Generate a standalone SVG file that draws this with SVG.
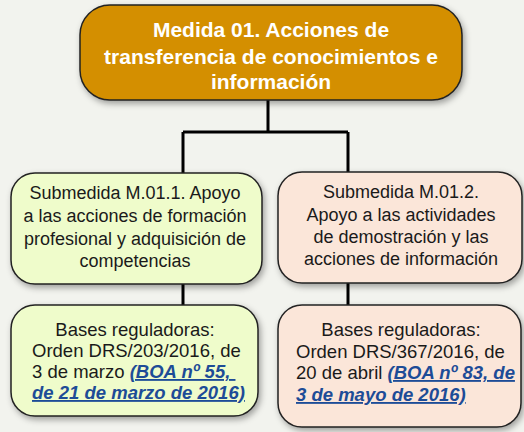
<svg xmlns="http://www.w3.org/2000/svg" width="524" height="432" viewBox="0 0 524 432">
<defs>
<filter id="sh" x="-10%" y="-10%" width="125%" height="130%">
<feDropShadow dx="2" dy="3" stdDeviation="3" flood-color="#000" flood-opacity="0.35"/>
</filter>
<style>
.box{stroke:#222;stroke-width:1.5;filter:url(#sh)}
.top{fill:#d48f00}
.grn{fill:#effccb}
.pch{fill:#fbe6d9}
.tt{font-family:"Liberation Sans",Arial,sans-serif;font-weight:bold;font-size:21px;fill:#fff;text-anchor:middle}
.t{font-family:"Liberation Sans",Arial,sans-serif;font-size:18px;fill:#1a1a1a}
.b{font-family:"Liberation Sans",Arial,sans-serif;font-size:18.5px;fill:#1a1a1a}
.lk{font-weight:bold;font-style:italic;fill:#1d4c97;text-decoration:underline}
.c{fill:none;stroke:#000;stroke-width:3}
</style>
</defs>
<rect width="524" height="432" fill="#f2f3ee"/>
<g id="connectors">
<path class="c" d="M268 100V132M183 132H348M183 132V174M348 132V173M183 284V306M348 283V306"/>
</g>
<g id="n-medida">
<rect class="box top" x="80" y="5" width="382" height="95" rx="30"/>
<text class="tt" x="271" y="37">Medida 01. Acciones de</text>
<text class="tt" x="271" y="64">transferencia de conocimientos e</text>
<text class="tt" x="271" y="89">información</text>
</g>
<g id="n-sub1">
<rect class="box grn" x="11" y="173" width="251" height="111" rx="24"/>
<text class="t" text-anchor="middle"><tspan x="135" y="199">Submedida M.01.1. Apoyo</tspan><tspan x="135" y="222">a las acciones de formación</tspan><tspan x="135" y="245">profesional y adquisición de</tspan><tspan x="135" y="267">competencias</tspan></text>
</g>
<g id="n-sub2">
<rect class="box pch" x="278" y="172" width="244" height="111" rx="24"/>
<text class="t" text-anchor="middle"><tspan x="401" y="198">Submedida M.01.2.</tspan><tspan x="401" y="221">Apoyo a las actividades</tspan><tspan x="401" y="243">de demostración y las</tspan><tspan x="401" y="265">acciones de información</tspan></text>
</g>
<g id="n-bases1">
<rect class="box grn" x="11" y="305" width="247" height="111" rx="24"/>
<text class="b"><tspan x="135" y="336" text-anchor="middle">Bases reguladoras:</tspan><tspan x="32" y="357">Orden DRS/203/2016, de</tspan><tspan x="32" y="378">3 de marzo <tspan class="lk">(BOA nº 55, </tspan></tspan><tspan x="32" y="399" class="lk">de 21 de marzo de 2016)</tspan></text>
</g>
<g id="n-bases2">
<rect class="box pch" x="278" y="305" width="243" height="122" rx="24"/>
<text class="b"><tspan x="401" y="336" text-anchor="middle">Bases reguladoras:</tspan><tspan x="296" y="358">Orden DRS/367/2016, de</tspan><tspan x="296" y="379">20 de abril <tspan class="lk">(BOA nº 83, de</tspan></tspan><tspan x="296" y="401" class="lk">3 de mayo de 2016)</tspan></text>
</g>
</svg>
